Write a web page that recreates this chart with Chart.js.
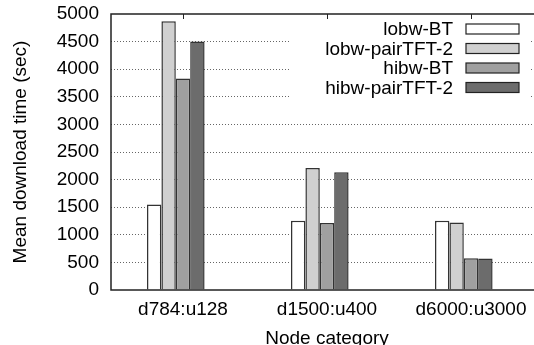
<!DOCTYPE html>
<html>
<head>
<meta charset="utf-8">
<title>Mean download time</title>
<script src="https://cdn.jsdelivr.net/npm/chart.js@4/dist/chart.umd.min.js"></script>
<style>
  html, body { margin: 0; padding: 0; background: #fff; overflow: hidden; }
  canvas { display: block; }
</style>
</head>
<body>
<canvas id="downloadChart" width="543" height="345"></canvas>
<script>
/*=========================================
DATA
=========================================*/

const categories = ["d784:u128", "d1500:u400", "d6000:u3000"];

const seriesNames = ["lobw-BT", "lobw-pairTFT-2", "hibw-BT", "hibw-pairTFT-2"];

const lobwBT = [1550, 1255, 1255];
const lobwPairTFT = [4870, 2210, 1225];
const hibwBT = [3830, 1215, 575];
const hibwPairTFT = [4500, 2135, 570];

const yTicks = [0, 500, 1000, 1500, 2000, 2500, 3000, 3500, 4000, 4500, 5000];

const fills = ["#ffffff", "#d0d0d0", "#a0a0a0", "#6c6c6c"];

const FONT = { family: "'Liberation Sans', Arial, sans-serif", size: 19 };

/*=========================================
FRAME, TOP TICS AND KEY
=========================================*/

const framePlugin = {
  id: "frame",
  afterDatasetsDraw(chart) {
    const { ctx, chartArea: a, scales } = chart;
    ctx.save();

    // key box, opaque over the grid
    ctx.fillStyle = "#fff";
    ctx.fillRect(290, 17, 240, 80);

    // border box
    ctx.strokeStyle = "#222";
    ctx.lineWidth = 1.5;
    ctx.strokeRect(a.left, a.top, a.right - a.left, a.bottom - a.top);

    // mirrored x tics on the top border
    ctx.lineWidth = 1;
    categories.forEach((c, i) => {
      const x = Math.round(scales.x.getPixelForTick(i)) + 0.5;
      ctx.beginPath();
      ctx.moveTo(x, a.top);
      ctx.lineTo(x, a.top + 5);
      ctx.stroke();
    });

    ctx.font = FONT.size + "px " + FONT.family;
    ctx.textAlign = "right";
    ctx.textBaseline = "middle";
    chart.data.datasets.slice(0, 4).forEach((ds, i) => {
      const y = 29 + i * 19.5;
      ctx.fillStyle = "#000";
      ctx.fillText(ds.label, 453, y + 1);
      ctx.fillStyle = ds.backgroundColor;
      ctx.fillRect(466, y - 5, 53, 10);
      ctx.strokeStyle = "#222";
      ctx.lineWidth = 1.2;
      ctx.strokeRect(466, y - 5, 53, 10);
    });

    ctx.restore();
  }
};

/*=========================================
CHART
=========================================*/

const seriesValues = [lobwBT, lobwPairTFT, hibwBT, hibwPairTFT];

const datasets = seriesNames.map((name, i) => ({
  label: name,
  data: seriesValues[i],
  backgroundColor: fills[i],
  borderColor: "#333",
  borderWidth: 1.5
}));

// empty slot that leaves the cluster gap on the right
datasets.push({ label: "", data: categories.map(() => null), backgroundColor: "transparent" });

Chart.defaults.color = "#000";
Chart.defaults.font.family = FONT.family;

new Chart(document.getElementById("downloadChart"), {
  type: "bar",
  data: { labels: categories, datasets: datasets },
  options: {
    responsive: false,
    animation: false,
    devicePixelRatio: 1,
    categoryPercentage: 0.5,
    barPercentage: 1,
    layout: { padding: { top: 14, right: 0, bottom: 0, left: 0 } },
    plugins: {
      legend: { display: false },
      tooltip: { enabled: false }
    },
    scales: {
      x: {
        offset: true,
        grid: { display: false, drawTicks: false },
        border: { display: false },
        ticks: { font: FONT, padding: 8, maxRotation: 0 },
        title: {
          display: true,
          text: "Node category",
          font: { ...FONT, lineHeight: 1 },
          padding: { top: 0, bottom: -3 }
        },
        afterFit(scale) {
          scale.height = 55;
          scale.paddingLeft = 0;
          scale.paddingRight = 0;
        }
      },
      y: {
        min: 0,
        max: 5000,
        afterBuildTicks(scale) { scale.ticks = yTicks.map(v => ({ value: v })); },
        grid: {
          drawTicks: false,
          color: c => (c.tick.value === 0 || c.tick.value === 5000) ? "transparent" : "#666",
          lineWidth: 1
        },
        border: { display: false, dash: [1, 2] },
        ticks: { font: FONT, padding: 12, callback: v => String(v) },
        title: {
          display: true,
          text: "Mean download time (sec)",
          font: { ...FONT, lineHeight: 1 },
          padding: { top: 11, bottom: 0 }
        },
        afterFit(scale) {
          scale.width = 111;
          scale.paddingTop = 0;
          scale.paddingBottom = 0;
        }
      }
    }
  },
  plugins: [framePlugin]
});
</script>
</body>
</html>
